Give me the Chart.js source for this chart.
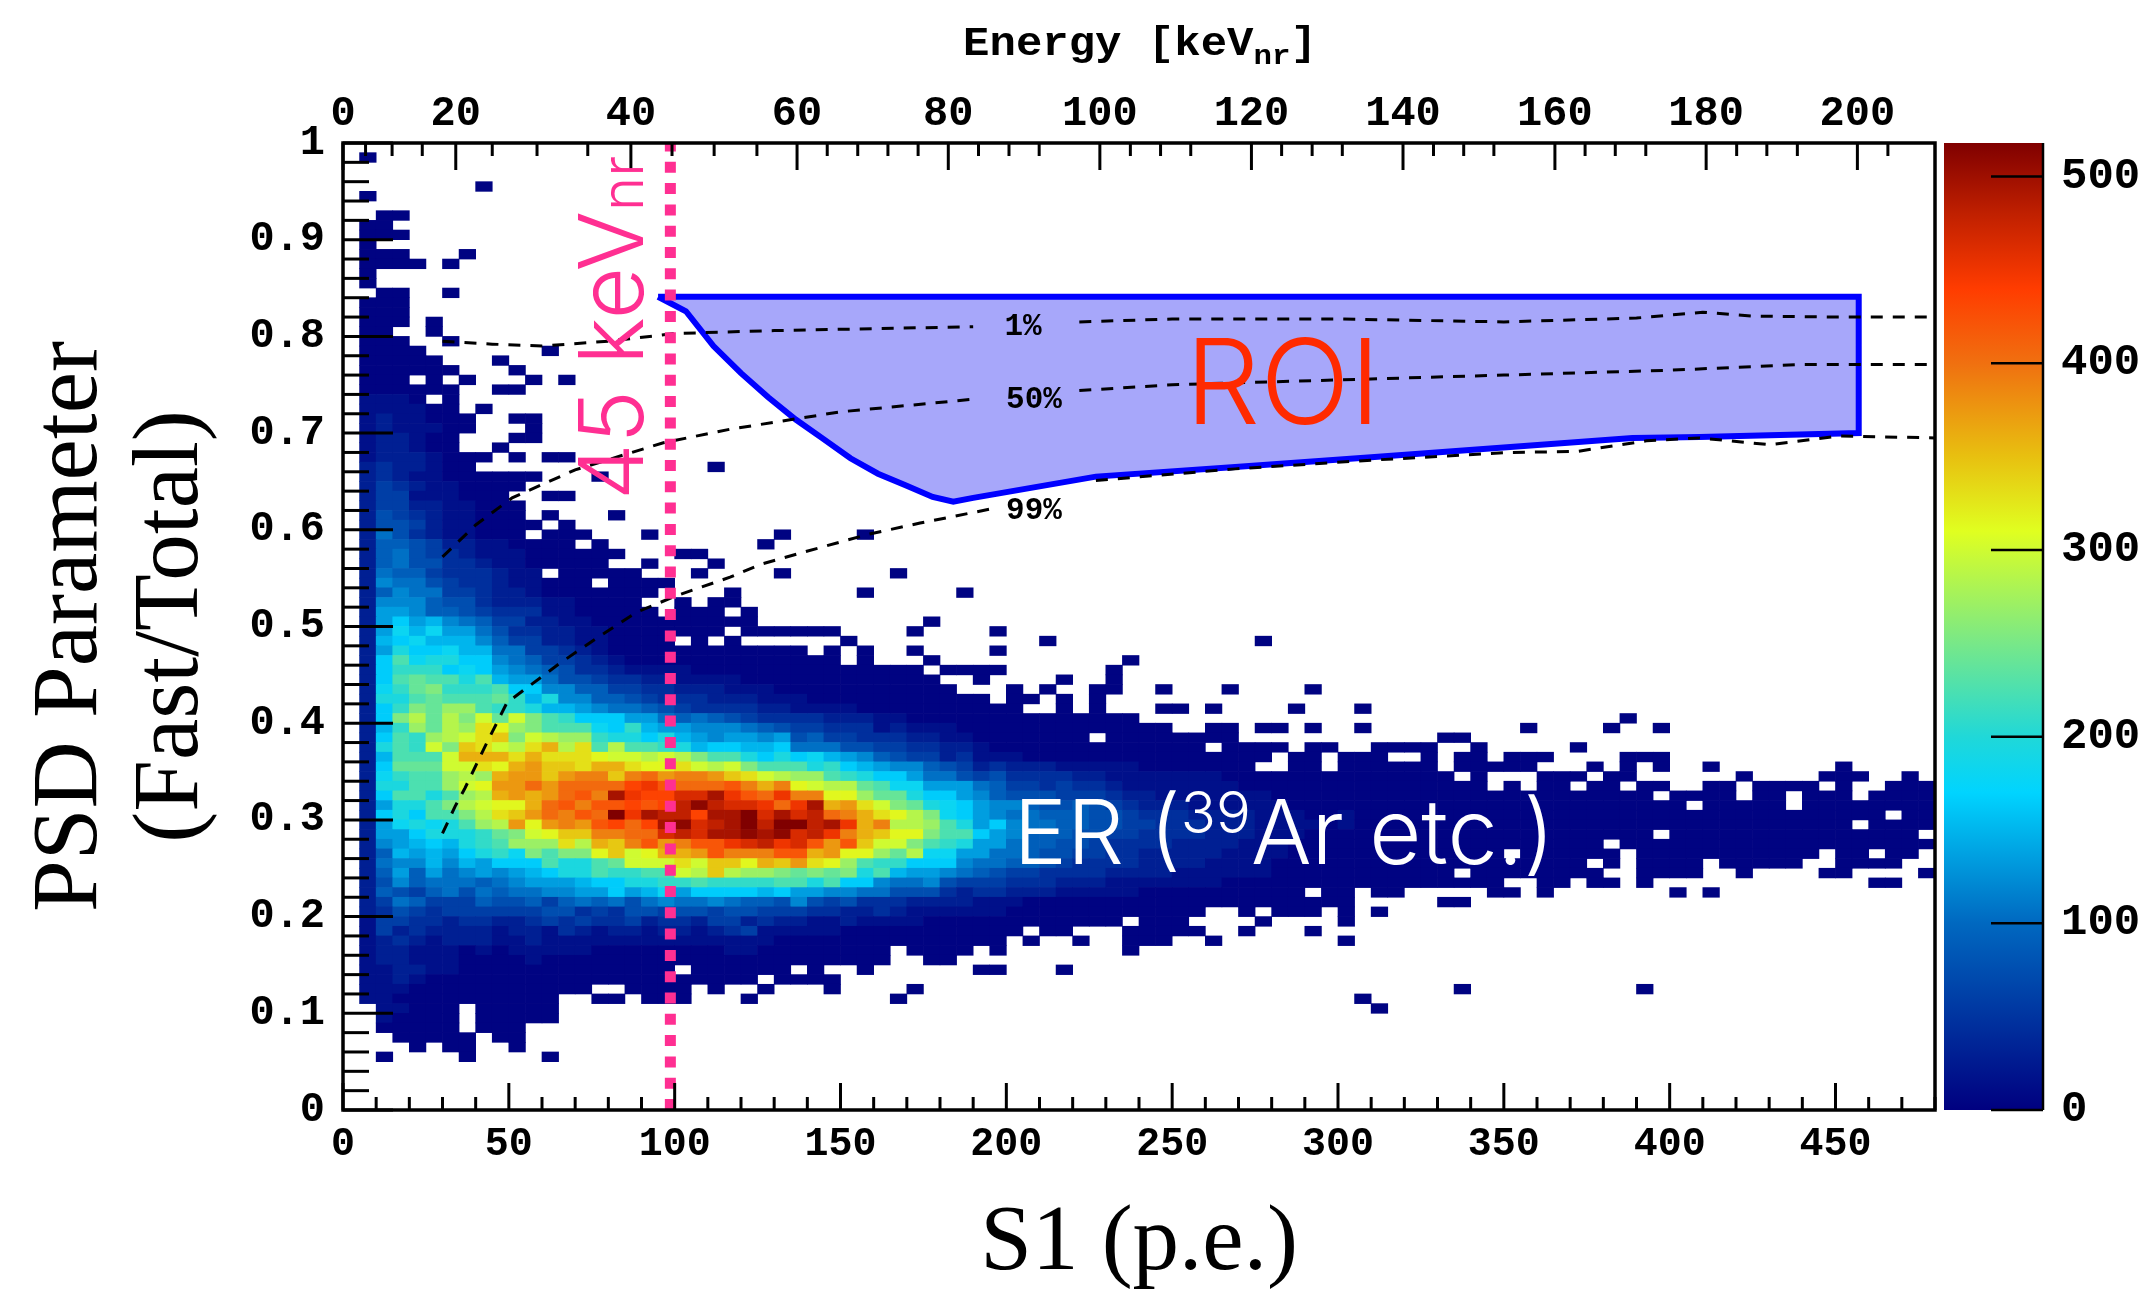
<!DOCTYPE html>
<html>
<head>
<meta charset="utf-8">
<title>PSD Parameter vs S1</title>
<script src="https://cdn.jsdelivr.net/npm/chart.js@4"></script>
<style>
  html, body { margin: 0; padding: 0; background: #fff; }
  #page { position: relative; width: 2151px; height: 1297px; overflow: hidden; }
  canvas { position: absolute; top: 0; }
  .nota { position: absolute; white-space: nowrap; line-height: 1; transform: translate(-50%, -50%); }
  .nota sub, .nota sup { line-height: 0; }
  .mono { font-family: "Liberation Mono", monospace; font-weight: bold; color: #000; }
  .sans { font-family: "Inter", "Liberation Sans", sans-serif; font-weight: 300; }
</style>
</head>
<body>
<div id="page">
  <canvas id="grafico" width="2151" height="1297" style="left:0"></canvas>
  <canvas id="barra" width="207" height="1297" style="left:1944px"></canvas>

  <div class="nota mono" style="left:1140px; top:45px; font-size:40px; transform:translate(-50%,-50%) scaleX(1.1)">Energy [keV<sub style="font-size:28px">nr</sub>]</div>
  <div class="nota sans" style="left:611px; top:328px; font-size:90px; color:#ff2f92; transform:translate(-50%,-50%) rotate(-90deg)">45 keV<span style="font-size:58px">nr</span></div>
  <div class="nota sans" style="left:1283px; top:381px; font-size:118px; color:#ff2a00">ROI</div>
  <div class="nota sans" style="left:1284px; top:832px; font-size:90px; color:#fff">ER (<sup style="font-size:58px">39</sup>Ar etc.)</div>
  <div class="nota mono" style="left:1023px; top:326px; font-size:31px">1%</div>
  <div class="nota mono" style="left:1034px; top:399px; font-size:31px">50%</div>
  <div class="nota mono" style="left:1034px; top:510px; font-size:31px">99%</div>
</div>

<script>
// Histograma: una fila por bin de PSD (0.99 arriba, 0.05 abajo), una letra por bin de S1
// '.' = vacio, 0-9 a-z = nivel de cuentas. Los espacios son solo para leerlo
const cellRows = [
  "",
  ".0",
  "",
  "",
  "........0",
  ".0",
  "",
  "..00",
  ".00",
  ".000",
  ".0",
  ".000...0",
  ".0000.0",
  ".0",
  ".0",
  "..00..0",
  ".000",
  ".000",
  ".000.0",
  ".00..0",
  ".000..0",
  ".0000..... ..0",
  ".00000...0",
  ".000000... 0",
  ".000.0.0.. .0.0",
  ".000000..0 0",
  ".1110.0",
  ".111100.0",
  ".121100 0.. 00",
  ".12111 00.. .0",
  ".122100... 00",
  ".122100..0",
  ".12221000. 0.00",
  ".2322100.. .......... ..0",
  ".232110000 00...0",
  ".243211000 0",
  ".244111000 ..00",
  ".244221100 0",
  ".254321100 0.0...0",
  ".255421100 00.0",
  ".275321100 0.000...0. ......0... .0",
  ".266542211 0000.0.... .....0",
  ".267543211 1000000... 00",
  ".267553321 100000..0. ..0",
  ".276643332 11.00000.. .0....0... ...0",
  ".287754332 11000.0000",
  ".268774432 210000000. ...0...... .0.....0",
  ".288865532 22110000.. 0.00",
  ".299866543 331100000. 000.0",
  ".29b9a8764 4221100000 00000..... .....0",
  ".29cac9975 3322110000 000.000000 ....0....0",
  ".2abcaaa86 4422110000 .0.0...... 0......... ..0....... .....0",
  ".29dbbcaa7 7443210000 00000000.0 .0..0....0",
  ".2bfcddbb8 7644321000 0000000000 .0...0.... .......0",
  ".2beeebcb9 8765332111 1000000000 00000.0000 ......0",
  ".2bfgffdfa 9975543322 1111000000 000000..0. ...0..0...",
  ".2cegheeef bb88664433 2221110000 0000000... 0.0..00..0 ...0....0.",
  ".2ddfgfffg ead8866543 3322211100 000000000. 00.0.0....",
  ".2behgiife edaa987765 4333322111 1000000000 0..0.0...0 0.0....0.. .0",
  ".2bhjgjhkg khfebbb997 6765433332 2211000000 00000000.. .......... .......... .......0",
  ".2aeigjiml ihfffcbea9 9888765443 3312111000 0000000000 ..00.00.0. .0........ .0....0..0",
  ".2bfeijkmn hkjiieddbd a989989564 4333221100 00000.0000 0000...... ......00",
  ".2dfekhnmk jmojmfjffe dabbaab777 5544332210 0000000000 00.0000.00 ..0000..0. ....0",
  ".2afffkooo mommmlkkjk jhffdbdbca 9865442311 1000000000 000000.00. 000..0.00. 000....000",
  ".2bgggkkml opnnmoomll mkjkhfffde ba98865423 2221111100 00000..00. 000000.000 00...0.0.0 ..0....... 0",
  ".2ceffijio ppnpqqnqrp qqpnmkjiif edbb977545 3333221111 1110000000 0000000.0. ..000.00.. ....0....0 00..0",
  ".2ddffiklp prprrrrtus rrrsqoqlkj jgfcc99976 4434332111 1111000000 000000000. 0.00.00.00 ..00.0000. 0..000",
  ".2bffdfijo poprsqxutt vvxusruqql liggdbb986 5554443221 1111110000 0000000000 000000000. 0000.00.00 0.0000",
  ".29ddfhjkl lorsqsstst wywvvuruxo pmkhgdcb98 8655654322 2111111000 0000000000 0000000000 0.00000.00 000000",
  ".2bdbffhjm nprqsrzuxw wtxxzvxvwr qomljhcb98 7766655433 3222211100 1000000000 0000000000 0000000000 000.00",
  ".29cdcdfij plpqpstrtx yvwxzwzzwx uoqjjifd9b 8776655443 3322211110 1000000000 0000000000 0000000000 0.0000",
  ".299bdddeg hklnnqqrrv wvxxyxyvwu qonllhffb9 8666554433 3322211100 0000000000 000000000. 0000000000 00000.",
  ".289abadef iiimjonqsp qssuvwuvsp snkkhfed99 7665543333 2222111000 0000000000 000000.000 0000000000 000000",
  ".26a9a9bde chfhhlnklo opsqqqssop lligjcc997 7655443322 2221111000 0000000000 .000000.00 000000000. 00.00.",
  ".2788a8a9b bbfddfgkkk mknnlonpml ifeebbb877 6654333322 2211110000 0000000000 00000.0.00 00.00000.. 0000",
  ".269697898 9abddfeeff kjnjiihghg hdfa998765 4433332222 1111110000 0000000.00 000000..00 00..0....0 0....0",
  ".258677767 8999abbdde efeeeeffdf bb87785444 3332221111 1110000000 0000000000 ..00.00.0. .......... ..00",
  ".265467576 778899b9ac 9bbbbab998 8775553233 2221111100 00000000.0 0.00.....0 0.0....... 0.0",
  ".247644465 5646767578 7787665854 5333222211 1000000000 0000000000 0.....00",
  ".235434444 4455343554 5545544433 2232111111 0000000000 00..0.000. 0.0",
  ".144332332 2343433423 3244232211 2111100000 0000000.00 0....0.... 0",
  ".142322221 2213212212 2123411111 0000000000 0.00...000 00..0...0",
  ".123212221 1211111111 1111110000 0000000000 .0..0..000 ..0....... 0",
  ".122111010 1111100000 0001100000 000.0000.0 .......0",
  ".122111000 0100000000 0000000000 000..00...",
  ".112211000 0000000000 .000000.0. .0......00 ...0",
  ".112100000 0000000000 00000.0000",
  ".111000000 00000..000 0.0..0...0 ....0..... .......... .......... .......0.. ........0",
  ".110000000 000..00.00 0...0..... ...0...... .......... .......... .0",
  "..11000.00 000....... .......... .......... .......... .......... ..0",
  "..10000.00 000",
  "..00000.00 0",
  "...00000.0 0",
  "....0.00.. 0",
  "..0....0.. ..0"
];

const s1Ticks = [0, 50, 100, 150, 200, 250, 300, 350, 400, 450];
const energyTicks = [0, 20, 40, 60, 80, 100, 120, 140, 160, 180, 200];
const energyTickS1 = [0, 34, 86.8, 136.9, 182.5, 228.2, 273.9, 319.6, 365.4, 411, 456.6];
const energyMinorS1 = [6.8, 14.8, 23.9, 45, 58.5, 73.8, 99.2, 111.9, 124.8, 146, 155.2, 164.3, 173.4,
  191.6, 200.8, 209.9, 237.4, 246.5, 255.6, 283, 292.2, 301.3, 328.8, 337.9, 347, 374.5, 383.6, 392.8,
  420.2, 429.3, 438.5, 465.8];

// Curvas de aceptacion (null = corte donde va la etiqueta)
const curve1X = [30, 45, 60, 80, 100, 130, 160, 190, 192, 221, 222, 250, 300, 350, 390, 410, 425, 450, 480];
const curve1Y = [0.795, 0.792, 0.79, 0.795, 0.803, 0.806, 0.808, 0.81, null, null, 0.815, 0.818, 0.818, 0.815, 0.819, 0.825, 0.821, 0.82, 0.82];
const curve50X = [30, 40, 51, 70, 96.6, 116.7, 150, 190, 196, 221, 222, 250, 300, 350, 400, 440, 480];
const curve50Y = [0.572, 0.605, 0.633, 0.662, 0.69, 0.704, 0.722, 0.735, null, null, 0.744, 0.75, 0.755, 0.76, 0.765, 0.771, 0.771];
const curve99X = [30, 33.8, 36.8, 43.4, 49.4, 54.4, 65.4, 76.5, 88.6, 100.7, 116.7, 125.7, 139, 158, 174, 196, 198, 221, 227, 269, 310, 352, 372, 393, 409, 430, 451, 480];
const curve99Y = [0.286, 0.314, 0.333, 0.38, 0.421, 0.434, 0.462, 0.488, 0.515, 0.532, 0.551, 0.564, 0.577, 0.595, 0.607, 0.622, null, null, 0.651, 0.663, 0.672, 0.68, 0.681, 0.692, 0.695, 0.688, 0.697, 0.695];

// Contorno de la region ROI
const roiX = [95, 457, 457, 409, 388.8, 310, 269, 227, 190, 184, 177.8, 169.6, 161.3, 153, 144.8, 136.5, 128.2, 120, 111.7, 103.4, 95];
const roiY = [0.841, 0.841, 0.7, 0.696, 0.695, 0.675, 0.665, 0.655, 0.633, 0.629, 0.634, 0.646, 0.658, 0.674, 0.694, 0.714, 0.737, 0.762, 0.79, 0.826, 0.841];

const corteS1 = [98.7, 98.7];
const corteY = [0, 1];

// Barra de colores
const barCounts = [0, 100, 170, 200, 250, 310, 350, 400, 440, 480, 518];
const barColors = ["#000080", "#0068c0", "#00d4ff", "#20d8d8", "#78e888", "#e0ff20", "#e8c010", "#f07010", "#ff3c00", "#c02000", "#800000"];

const LEVEL_CHARS = "0123456789abcdefghijklmnopqrstuvwxyz";
const MAX_COUNT = 518;

function hexToRgb(h) {
  return [parseInt(h.slice(1, 3), 16), parseInt(h.slice(3, 5), 16), parseInt(h.slice(5, 7), 16)];
}

function colorCuentas(n) {
  for (let i = 0; i < barCounts.length - 1; i++) {
    if (n <= barCounts[i + 1]) {
      const t = (n - barCounts[i]) / (barCounts[i + 1] - barCounts[i]);
      const a = hexToRgb(barColors[i]);
      const b = hexToRgb(barColors[i + 1]);
      return `rgb(${a.map((v, k) => Math.round(v + (b[k] - v) * t)).join(",")})`;
    }
  }
  return barColors[barColors.length - 1];
}

const celdas = [];
cellRows.forEach((fila, idx) => {
  const limpia = fila.replace(/ /g, "");
  const bin = 99 - idx;
  for (let c = 0; c < limpia.length; c++) {
    if (limpia[c] === ".") continue;
    const nivel = LEVEL_CHARS.indexOf(limpia[c]);
    celdas.push({ x: c * 5 + 2.5, y: [bin / 100, (bin + 1) / 100], n: nivel === 0 ? 3 : nivel * 15 });
  }
});

function puntos(xs, ys) {
  return xs.map((x, i) => ({ x: x, y: ys[i] }));
}

function curva(xs, ys) {
  return {
    type: "scatter", showLine: true, data: puntos(xs, ys), order: 1,
    borderColor: "#000", borderWidth: 3, borderDash: [12, 10], pointRadius: 0, fill: false
  };
}

// Marcas hacia dentro y marco, como en ROOT
const marcasPlugin = {
  id: "marcas",
  afterDatasetsDraw(chart) {
    const { ctx, chartArea: a, scales } = chart;
    ctx.save();
    ctx.strokeStyle = "#000";
    ctx.lineWidth = 3;
    const vert = (px, y0, y1) => { ctx.beginPath(); ctx.moveTo(px, y0); ctx.lineTo(px, y1); ctx.stroke(); };
    const hori = (py, x0, x1) => { ctx.beginPath(); ctx.moveTo(x0, py); ctx.lineTo(x1, py); ctx.stroke(); };

    for (let v = 0; v <= 480; v += 10) {
      vert(scales.x.getPixelForValue(v), a.bottom, a.bottom - (v % 50 === 0 ? 27 : 13));
    }
    for (let b = 0; b <= 50; b++) {
      hori(scales.y.getPixelForValue(b / 50), a.left, a.left + (b % 5 === 0 ? 50 : 26));
    }
    energyTickS1.forEach(v => vert(scales.x2.getPixelForValue(v), a.top, a.top + 27));
    energyMinorS1.forEach(v => vert(scales.x2.getPixelForValue(v), a.top, a.top + 13));

    ctx.lineWidth = 3.5;
    ctx.strokeRect(a.left, a.top, a.right - a.left, a.bottom - a.top);
    ctx.restore();
  }
};

const fuenteEje = { family: "'Liberation Mono', monospace", weight: "bold", size: 42 };
const fuenteBajo = { family: "'Liberation Mono', monospace", weight: "bold", size: 40 };
const fuenteBarra = { family: "'Liberation Mono', monospace", weight: "bold", size: 44 };
const fuenteTitulo = { family: "'Liberation Serif', serif", size: 93, lineHeight: 1.085 };

new Chart(document.getElementById("grafico"), {
  type: "bar",
  data: {
    datasets: [
      {
        data: celdas, order: 3, barPercentage: 1, categoryPercentage: 1, borderWidth: 0,
        backgroundColor: celdas.map(c => colorCuentas(c.n))
      },
      {
        type: "scatter", showLine: true, data: puntos(roiX, roiY), order: 2,
        borderColor: "#0000ff", borderWidth: 6, pointRadius: 0,
        backgroundColor: "rgba(60,60,245,0.45)", fill: "shape"
      },
      curva(curve1X, curve1Y),
      curva(curve50X, curve50Y),
      curva(curve99X, curve99Y),
      {
        type: "scatter", showLine: true, data: puntos(corteS1, corteY), order: 0,
        borderColor: "#ff2f92", borderWidth: 11, borderDash: [11, 10.3], pointRadius: 0, fill: false
      }
    ]
  },
  options: {
    responsive: false,
    animation: false,
    events: [],
    layout: { padding: { right: 216 } },
    plugins: { legend: { display: false }, tooltip: { enabled: false } },
    scales: {
      x: {
        type: "linear", position: "bottom", min: 0, max: 480, offset: false,
        grid: { display: false }, border: { display: false },
        afterFit(s) { s.height = 187; },
        afterBuildTicks(s) { s.ticks = s1Ticks.map(v => ({ value: v })); },
        ticks: { font: fuenteBajo, color: "#000", padding: 3, maxRotation: 0, autoSkip: false },
        title: { display: true, text: "S1 (p.e.)", color: "#000", font: fuenteTitulo, padding: { top: 0, bottom: 2 } }
      },
      x2: {
        type: "linear", position: "top", min: 0, max: 480, offset: false,
        grid: { display: false }, border: { display: false },
        afterFit(s) { s.height = 143; },
        afterBuildTicks(s) { s.ticks = energyTickS1.map(v => ({ value: v })); },
        ticks: {
          font: fuenteEje, color: "#000", padding: -5, maxRotation: 0, autoSkip: false,
          callback: v => String(energyTicks[energyTickS1.indexOf(v)])
        }
      },
      y: {
        type: "linear", position: "left", min: 0, max: 1,
        grid: { display: false }, border: { display: false },
        afterFit(s) { s.width = 343; },
        ticks: {
          font: fuenteEje, color: "#000", padding: 10, stepSize: 0.1,
          callback: v => String(+v.toFixed(1))
        },
        title: { display: true, text: ["PSD Parameter", "(Fast/Total)"], color: "#000", font: fuenteTitulo, padding: { top: 21, bottom: 0 } }
      }
    }
  },
  plugins: [marcasPlugin]
});

// Barra de colores con su propio eje
const barraPlugin = {
  id: "barraMarcas",
  afterDatasetsDraw(chart) {
    const { ctx, chartArea: a, scales } = chart;
    ctx.save();
    ctx.strokeStyle = "#000";
    ctx.lineWidth = 2.5;
    ctx.beginPath();
    ctx.moveTo(a.right, a.top);
    ctx.lineTo(a.right, a.bottom);
    scales.y.ticks.forEach(t => {
      const py = scales.y.getPixelForValue(t.value);
      ctx.moveTo(a.right, py);
      ctx.lineTo(a.right - 52, py);
    });
    ctx.stroke();
    ctx.restore();
  }
};

new Chart(document.getElementById("barra"), {
  type: "bar",
  data: {
    labels: ["z"],
    datasets: [{
      data: [[0, MAX_COUNT]],
      barPercentage: 1, categoryPercentage: 1, borderWidth: 0,
      backgroundColor(ctx) {
        const { chartArea, ctx: c } = ctx.chart;
        if (!chartArea) return barColors[0];
        const g = c.createLinearGradient(0, chartArea.bottom, 0, chartArea.top);
        barCounts.forEach((n, i) => g.addColorStop(n / MAX_COUNT, barColors[i]));
        return g;
      }
    }]
  },
  options: {
    responsive: false,
    animation: false,
    events: [],
    layout: { padding: { top: 143, bottom: 187 } },
    plugins: { legend: { display: false }, tooltip: { enabled: false } },
    scales: {
      x: { display: false },
      y: {
        type: "linear", position: "right", min: 0, max: MAX_COUNT,
        grid: { display: false }, border: { display: false },
        afterFit(s) { s.width = 108; },
        ticks: { font: fuenteBarra, color: "#000", padding: 10, stepSize: 100, includeBounds: false }
      }
    }
  },
  plugins: [barraPlugin]
});
</script>
</body>
</html>
